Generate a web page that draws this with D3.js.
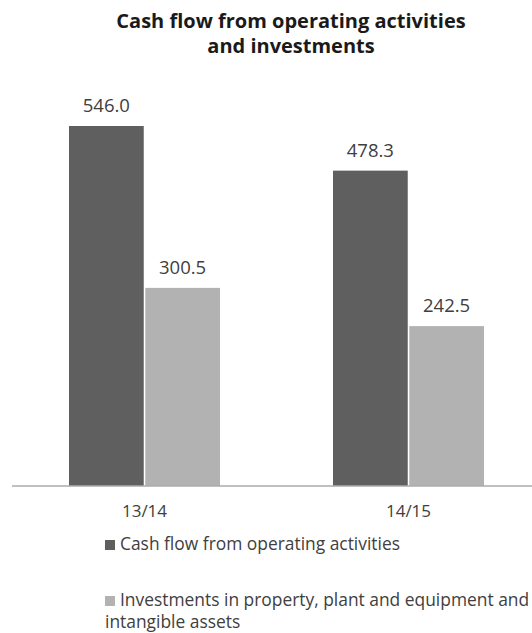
<!DOCTYPE html>
<html><head><meta charset="utf-8">
<script src="https://cdn.jsdelivr.net/npm/d3@7"></script>
<style>
html,body{margin:0;padding:0;background:#fff;}
svg{display:block;}
</style></head>
<body>
<script>
const categories = ["13/14", "14/15"];
const seriesNames = ["Cash flow from operating activities", "Investments in property, plant and equipment and intangible assets"];
const cashFlow = [546.0, 478.3];
const investments = [300.5, 242.5];
const seriesValues = [cashFlow, investments];
const colors = ["#5f5f5f", "#b2b2b2"];
const titleLines = ["Cash flow from operating activities", "and investments"];
const legendLines = [["Cash flow from operating activities"], ["Investments in property, plant and equipment and", "intangible assets"]];

const W = 532, H = 633;
const svg = d3.select("body").append("svg").attr("width", W).attr("height", H);
const font = "'Open Sans', sans-serif";

// Title
svg.append("text").attr("x", 291).attr("y", 28).attr("text-anchor", "middle")
  .attr("font-family", font).attr("font-weight", "bold").attr("font-size", 20).attr("fill", "#1a1a1a")
  .selectAll("tspan").data(titleLines).join("tspan")
  .attr("x", 291).attr("dy", (d, i) => i ? 25 : 0).text(d => d);

const baseY = 486;
const y = d3.scaleLinear().domain([0, 546.0]).range([baseY, 126]);
const x0 = d3.scaleBand().domain(categories).range([12.5, 540.5]).padding(0);
const x1 = d3.scaleBand().domain(d3.range(seriesValues.length)).range([56.5, 207.5]).paddingInner(0.02);

const data = categories.map((c, i) => ({c, vals: seriesValues.map((s, k) => ({k, v: s[i]}))}));

const g = svg.append("g");
const groups = g.selectAll("g.grp").data(data).join("g").attr("transform", d => `translate(${x0(d.c)},0)`);
groups.selectAll("rect").data(d => d.vals).join("rect")
  .attr("x", d => x1(d.k)).attr("width", x1.bandwidth())
  .attr("y", d => y(d.v)).attr("height", d => baseY - y(d.v))
  .attr("fill", d => colors[d.k]);
groups.selectAll("text.val").data(d => d.vals).join("text").attr("class", "val")
  .attr("x", d => x1(d.k) + x1.bandwidth() / 2).attr("y", d => y(d.v) - 14)
  .attr("text-anchor", "middle").attr("font-family", font).attr("font-size", 18.5).attr("fill", "#404040")
  .text(d => d3.format(".1f")(d.v));

// Axis
const axis = svg.append("g").attr("transform", `translate(0,${baseY})`)
  .call(d3.axisBottom(x0).tickSize(0).tickPadding(0));
axis.select(".domain").attr("stroke", "#ababab").attr("stroke-width", 1.5).attr("d", "M12,0H532");
axis.selectAll(".tick text").attr("y", 31).attr("dy", 0).attr("font-family", font).attr("font-size", 17).attr("fill", "#404040");

// Legend
const legendY = [550, 606];
const lg = svg.append("g");
legendLines.forEach((lines, i) => {
  lg.append("rect").attr("x", 105).attr("y", legendY[i] - 10).attr("width", 10).attr("height", 10).attr("fill", colors[i]);
  lg.append("text").attr("font-family", font).attr("font-size", 17.4).attr("fill", "#404040")
    .attr("x", 120).attr("y", legendY[i])
    .selectAll("tspan").data(lines).join("tspan")
    .attr("x", (d, j) => j ? 105 : 120).attr("dy", (d, j) => j ? 21.5 : 0).text(d => d);
});
</script>
</body></html>
